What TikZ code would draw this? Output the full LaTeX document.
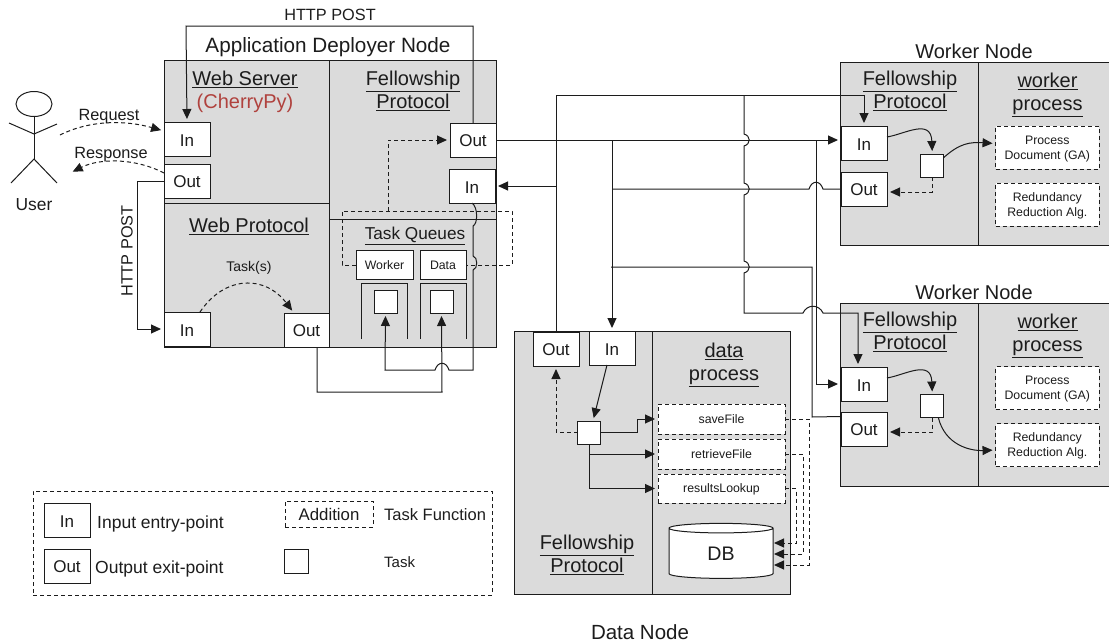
\documentclass[tikz,border=0pt]{standalone}
\usepackage{fontspec}
\setmainfont{Liberation Sans}
\usetikzlibrary{positioning,arrows.meta,shapes.geometric}
\definecolor{inkdark}{HTML}{1C1C1C}
\definecolor{panelgray}{HTML}{DBDBDB}
\definecolor{cherryred}{HTML}{B0423E}
% hop of a vertical line, going down, and of a horizontal line (last argument: signed half width)
\newcommand{\hopv}[2]{-- (#1,#2-6) .. controls (#1+7,#2-4) and (#1+7,#2+4) .. (#1,#2+6)}
\newcommand{\hoph}[3]{-- (#1-#3,#2) .. controls (#1-0.6*#3,#2-9) and (#1+0.6*#3,#2-9) .. (#1+#3,#2)}
\begin{document}
\begin{tikzpicture}[x=1pt,y=-1pt,inkdark,
                    panelbox/.style={draw=inkdark, fill=panelgray, line width=1pt, inner sep=0pt, outer sep=0pt, anchor=north west},
                    portbox/.style={draw=inkdark, fill=white, line width=1pt, inner sep=0pt, outer sep=0pt, minimum width=46pt, minimum height=34pt, text height=14pt, font=\fontsize{17}{20}\selectfont},
                    tasksquare/.style={draw=inkdark, fill=white, line width=1pt, inner sep=0pt, outer sep=0pt, minimum size=23pt},
                    smallbox/.style={draw=inkdark, fill=white, line width=1pt, inner sep=0pt, outer sep=0pt, minimum height=29pt, font=\fontsize{12.3}{15}\selectfont},
                    funcbox/.style={draw=inkdark, fill=white, dash pattern=on 4pt off 3pt, line width=1pt, inner sep=0pt, outer sep=0pt, align=center, text depth=0pt, font=\fontsize{12.3}{15}\selectfont},
                    titletext/.style={align=center, inner sep=0pt, font=\fontsize{20}{23}\selectfont},
                    plaintext/.style={inner sep=0pt, text depth=0pt, font=\fontsize{16.3}{19}\selectfont},
                    wire/.style={draw=inkdark, line width=1pt},
                    conn/.style={wire, -{Triangle[length=10pt,width=9pt]}, shorten >=3pt},
                    dashwire/.style={wire, dash pattern=on 4pt off 3pt},
                    dashconn/.style={conn, dash pattern=on 4pt off 3pt}]
    \useasboundingbox (0,0) rectangle (1109,643);
    % application deployer node
    \node[panelbox, minimum width=165.5pt, minimum height=143pt] (webServer) at (164,60) {};
    \node[panelbox, minimum width=165.5pt, minimum height=144pt, below=0pt of webServer.south west, anchor=north west] (webProtocol) {};
    \node[panelbox, minimum width=166.5pt, minimum height=159.5pt, right=0pt of webServer.north east, anchor=north west] (appFellow) {};
    \node[panelbox, minimum width=166.5pt, minimum height=127.5pt, below=0pt of appFellow.south west, anchor=north west] (taskQueues) {};
    \node[titletext, font=\fontsize{20.7}{24}\selectfont] (appTitle) at (328,47.5) {Application Deployer Node};
    \node[titletext] (webServerTitle) at (245,79) {\underline{Web Server}};
    \node[titletext, text=cherryred] (cherryTitle) at (245,103) {(CherryPy)};
    \node[titletext] (appFellowTitle) at (413,91) {\underline{Fellowship}\\\underline{Protocol}};
    \node[titletext] (webProtocolTitle) at (249,226) {\underline{Web Protocol}};
    \node[plaintext, font=\fontsize{14}{17}\selectfont] (taskLabel) at (249,266) {Task(s)};
    \node[plaintext, font=\fontsize{17.2}{20}\selectfont] (queuesTitle) at (415,233) {\underline{Task Queues}};
    \node[portbox] (webIn) at (187,139) {In};
    \node[portbox, below=8pt of webIn] (webOut) {Out};
    \node[portbox] (protoIn) at (187,329) {In};
    \node[portbox, minimum width=45pt] (protoOut) at (306.5,330) {Out};
    \node[portbox] (fellowOut) at (473,140) {Out};
    \node[portbox] (fellowIn) at (472,186) {In};
    \node[smallbox, minimum width=57pt] (workerQueue) at (384.5,265) {Worker};
    \node[smallbox, minimum width=46pt] (dataQueue) at (443,265) {Data};
    \node[tasksquare] (workerSlot) at (385.5,301.5) {};
    \node[tasksquare] (dataSlot) at (441.5,301.5) {};
    \draw[wire] (361,339) -- (361,283) -- (407,283) -- (407,339);
    \draw[wire] (420,339) -- (420,283) -- (466,283) -- (466,339);
    % user
    \node[draw=inkdark, line width=1pt, ellipse, minimum width=36pt, minimum height=25pt, inner sep=0pt] (userHead) at (34,104) {};
    \coordinate (userHip) at (34,159);
    \draw[wire] (userHead.south) -- (userHip);
    \draw[wire] (9,123) -- (34,134) -- (57,124);
    \draw[wire] (11,183) -- (userHip) -- (57,183);
    \node[plaintext, font=\fontsize{17.4}{20}\selectfont] (userLabel) at (34,205) {User};
    \coordinate (userHand) at (60,135);
    \coordinate (userSide) at (70,173);
    \node[plaintext] (requestLabel) at (109,115) {Request};
    \node[plaintext] (responseLabel) at (111,153) {Response};
    \node[plaintext, rotate=90, text depth=0pt] (postLeft) at (127,251) {HTTP POST};
    \node[plaintext] (postTop) at (330,15) {HTTP POST};
    % worker node one
    \node[panelbox, minimum width=138pt, minimum height=183pt] (workerAProto) at (840,62) {};
    \node[panelbox, minimum width=140pt, minimum height=183pt, right=0pt of workerAProto.north east, anchor=north west] (workerAProc) {};
    \node[titletext] (workerATitle) at (974,51) {Worker Node};
    \node[titletext] (workerAFellow) at (910,90.5) {\underline{Fellowship}\\\underline{Protocol}};
    \node[titletext] (workerAProcTitle) at (1047.5,95) {\underline{worker}\\\underline{process}};
    \node[portbox] (workerAIn) at (864,143) {In};
    \node[portbox, below=12pt of workerAIn] (workerAOut) {Out};
    \node[tasksquare] (workerATask) at (932.3,165.5) {};
    \node[funcbox, minimum width=103.5pt, minimum height=43pt] (workerAGa) at (1047.3,147.5) {Process\\Document (GA)};
    \node[funcbox, minimum width=103.5pt, minimum height=43pt, below=14pt of workerAGa] (workerARed) {Redundancy\\Reduction Alg.};
    % worker node two
    \node[panelbox, minimum width=138pt, minimum height=183pt] (workerBProto) at (840,303) {};
    \node[panelbox, minimum width=140pt, minimum height=183pt, right=0pt of workerBProto.north east, anchor=north west] (workerBProc) {};
    \node[titletext] (workerBTitle) at (974,292) {Worker Node};
    \node[titletext] (workerBFellow) at (910,331.5) {\underline{Fellowship}\\\underline{Protocol}};
    \node[titletext] (workerBProcTitle) at (1047.5,336) {\underline{worker}\\\underline{process}};
    \node[portbox] (workerBIn) at (864,384) {In};
    \node[portbox, below=11pt of workerBIn] (workerBOut) {Out};
    \node[tasksquare] (workerBTask) at (932.3,406) {};
    \node[funcbox, minimum width=103.5pt, minimum height=43pt] (workerBGa) at (1047.3,388) {Process\\Document (GA)};
    \node[funcbox, minimum width=103.5pt, minimum height=43pt, below=14pt of workerBGa] (workerBRed) {Redundancy\\Reduction Alg.};
    % data node
    \node[panelbox, minimum width=138pt, minimum height=263pt] (dataProto) at (514,331) {};
    \node[panelbox, minimum width=138pt, minimum height=263pt, right=0pt of dataProto.north east, anchor=north west] (dataProc) {};
    \node[titletext] (dataFellow) at (587,554.5) {\underline{Fellowship}\\\underline{Protocol}};
    \node[titletext] (dataProcTitle) at (724,365) {\underline{data}\\\underline{process}};
    \node[titletext, font=\fontsize{20.5}{24}\selectfont] (dataTitle) at (640,632) {Data Node};
    \node[portbox] (dataOut) at (556,349) {Out};
    \node[portbox] (dataIn) at (612,348) {In};
    \node[tasksquare] (dataTask) at (589,432.5) {};
    \node[funcbox, minimum width=127pt, minimum height=30pt] (saveFile) at (721.5,419) {saveFile};
    \node[funcbox, minimum width=127pt, minimum height=30pt] (retrieveFile) at (721.5,454) {retrieveFile};
    \node[funcbox, minimum width=127pt, minimum height=29pt] (resultsLookup) at (721.5,488.5) {resultsLookup};
    \node[draw=inkdark, fill=white, line width=1pt, cylinder, shape border rotate=90, aspect=0.35, minimum width=104pt, minimum height=55pt, inner sep=0pt, font=\fontsize{19.6}{22}\selectfont] (dbStore) at (721,553.5) {DB};
    % legend
    \node[panelbox, fill=none, dash pattern=on 4pt off 3pt, minimum width=459pt, minimum height=104pt] (legendFrame) at (33,491) {};
    \node[portbox] (legendIn) at (67,520) {In};
    \node[portbox] (legendOut) at (67,566) {Out};
    \node[plaintext, anchor=west, font=\fontsize{17.5}{20}\selectfont] (legendInText) at (97,522) {Input entry-point};
    \node[plaintext, anchor=west, font=\fontsize{17.5}{20}\selectfont] (legendOutText) at (95,567) {Output exit-point};
    \node[funcbox, minimum width=88pt, minimum height=26pt, font=\fontsize{16.8}{20}\selectfont] (legendFunc) at (329,514) {Addition};
    \node[plaintext, anchor=west, font=\fontsize{16.5}{19}\selectfont] (legendFuncText) at (384,515) {Task Function};
    \node[tasksquare, minimum size=24pt] (legendTask) at (296.5,561) {};
    \node[plaintext, anchor=west, font=\fontsize{15}{18}\selectfont] (legendTaskText) at (384,562) {Task};
    % lines, deployer node
    \draw[dashconn] (userHand) .. controls (90,120) and (125,120) .. ([yshift=8pt]webIn.west);
    \draw[dashconn] ([yshift=8pt]webOut.west) .. controls (135,158) and (100,158) .. (userSide);
    \draw[conn] (webOut.west) -- (137,181) |- (protoIn.west);
    \draw[dashconn] ([xshift=13pt]protoIn.north) .. controls (225,275) and (265,275) .. ([xshift=-12.5pt]protoOut.north);
    \draw[conn] (fellowOut.north) -- (473,26) -- (186,26) -- (webIn.north);
    \coordinate (loopTap) at (388,211);
    \draw[dashconn] (loopTap) |- (fellowOut.west);
    \draw[dashwire] (workerQueue.west) -- (342,265) -- (342,211) -- (512,211) -- (512,265) -- (dataQueue.east);
    \draw[conn] (fellowIn.south) .. controls (478,207) and (478,224) .. (473,226) -- (473,256) .. controls (478,257) and (478,269) .. (473,270) -- (473,370) -- (449,370) \hoph{442}{370}{-7} -- (385,370) -- (workerSlot.south);
    \draw[conn] ([xshift=10.5pt]protoOut.south) -- (317,392) -- (442,392) -- (dataSlot.south);
    % lines, between the nodes
    \coordinate (busTop) at (556,95);
    \coordinate (splitB) at (816,140);
    \coordinate (hopTop) at (744,95);
    \draw[conn] (dataOut.north) |- (fellowIn.east);
    \draw[conn] (dataOut.north) -- (busTop) -| (workerAIn.north);
    \draw[conn] (fellowOut.east) -- (fellowOut.east -| workerAIn.west);
    \draw[conn] (dataIn.north |- fellowOut.east) -- (dataIn.north);
    \draw[conn] (splitB) |- (workerBIn.west);
    \draw[wire] (workerAOut.west) \hoph{816}{189}{-7} -- (dataIn.north |- workerAOut.west);
    \draw[wire] (611,267) -- (812,267) -- (812,417) -- ([yshift=12.5pt]workerBOut.west);
    \draw[conn] (hopTop) \hopv{744}{140} \hopv{744}{189} \hopv{744}{267} -- (744,313) \hoph{813}{313}{10} -- (858,313) -- ([xshift=-6pt]workerBIn.north);
    % lines, worker nodes
    \draw[conn] ([yshift=6pt]workerAIn.east) .. controls (905,134) and (931,118) .. (workerATask.north);
    \draw[conn] ([yshift=8pt]workerATask.east) .. controls (960,143) and (970,142) .. ([yshift=4pt]workerAGa.west);
    \draw[dashconn] (workerATask.south) |- ([yshift=-3pt]workerAOut.east);
    \draw[conn] ([yshift=6pt]workerBIn.east) .. controls (905,375) and (931,359) .. (workerBTask.north);
    \draw[conn] ([xshift=6pt]workerBTask.south) .. controls (945,445) and (970,451) .. ([yshift=-5pt]workerBRed.west);
    \draw[dashconn] (workerBTask.south) |- ([yshift=-3pt]workerBOut.east);
    % lines, data node
    \draw[conn] ([xshift=-5pt]dataIn.south) -- ([xshift=4pt]dataTask.north);
    \draw[dashconn] (dataTask.west) -| (dataOut.south);
    \draw[conn] (dataTask.east) -- (637,432.5) |- (saveFile.west);
    \draw[conn] (dataTask.south) |- (retrieveFile.west);
    \draw[conn] (dataTask.south) |- (resultsLookup.west);
    \draw[dashconn, shorten >=0pt] (saveFile.east) -- (809,419) |- (774,565);
    \draw[dashconn, shorten >=0pt] (retrieveFile.east) -- (803,454) |- (774,554);
    \draw[dashconn, shorten >=0pt] (resultsLookup.east) -- (796,488.5) |- (774,543);
\end{tikzpicture}
\end{document}
